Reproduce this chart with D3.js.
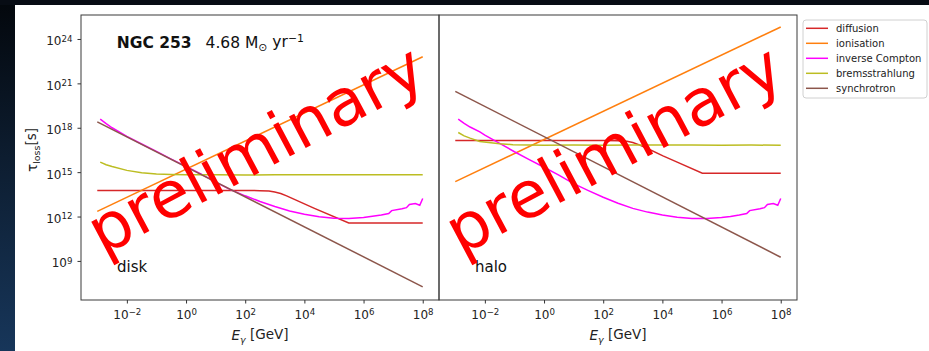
<!DOCTYPE html>
<html>
<head>
<meta charset="utf-8">
<script src="https://cdn.jsdelivr.net/npm/d3@7"></script>
<style>
    body { margin: 0; background: #0b1019; }
    svg { display: block; font-family: "DejaVu Sans", sans-serif; }
</style>
</head>
<body>
<svg id="chart" width="929" height="351"></svg>
<script>
// values are [log10 E_gamma (GeV), log10 tau_loss (s)]
const diffusionDisk = [[-3, 13.76], [2, 13.76], [2.5, 13.75], [2.8, 13.72], [3, 13.66], [3.2, 13.56], [3.4, 13.4], [3.7, 13.13], [4.32, 12.57], [5.5, 11.56], [8, 11.56]];
const ionisationDisk = [[-3, 12.35], [8, 22.8]];
const icDisk = [[-2.9, 18.58], [-2.7, 18.28], [-2.5, 18.0], [-2.2, 17.65], [-2, 17.42], [-1.5, 16.9], [-1, 16.4], [-0.5, 15.88], [0, 15.38], [0.5, 14.88], [1, 14.32], [1.5, 13.82], [2, 13.4], [2.5, 13.02], [3, 12.68], [3.5, 12.38], [4, 12.15], [4.5, 11.98], [5, 11.88], [5.5, 11.86], [6, 11.94], [6.3, 12.02], [6.6, 12.1], [6.85, 12.2], [6.95, 12.4], [7.3, 12.52], [7.45, 12.6], [7.55, 12.82], [7.75, 12.88], [7.9, 12.76], [8, 13.22]];
const bremsDisk = [[-2.9, 15.68], [-2.7, 15.5], [-2.5, 15.38], [-2, 15.12], [-1.5, 14.96], [-1, 14.88], [-0.5, 14.84], [0, 14.82], [1, 14.83], [2, 14.81], [3, 14.82], [4, 14.83], [5, 14.82], [6, 14.82], [7, 14.83], [8, 14.82]];
const synchDisk = [[-3, 18.4], [8, 7.25]];

const diffusionHalo = [[-3, 17.14], [2, 17.14], [2.5, 17.13], [2.8, 17.09], [3, 17.0], [3.2, 16.86], [3.46, 16.63], [4.02, 16.1], [4.5, 15.68], [5.35, 14.93], [8, 14.93]];
const ionisationHalo = [[-3, 14.36], [8, 24.81]];
const icHalo = [[-2.9, 18.59], [-2.7, 18.3], [-2.5, 18.05], [-2.17, 17.72], [-2, 17.5], [-1.5, 16.95], [-1, 16.38], [-0.5, 15.85], [0, 15.33], [0.5, 14.8], [1, 14.22], [1.5, 13.75], [2, 13.3], [2.5, 12.9], [3, 12.55], [3.5, 12.3], [4, 12.1], [4.5, 11.96], [5, 11.87], [5.5, 11.86], [6, 11.93], [6.3, 12.0], [6.6, 12.1], [6.85, 12.2], [6.95, 12.4], [7.3, 12.52], [7.45, 12.6], [7.55, 12.82], [7.75, 12.88], [7.9, 12.76], [8, 13.22]];
const bremsHalo = [[-2.9, 17.68], [-2.7, 17.45], [-2.5, 17.3], [-2.17, 17.07], [-1.5, 16.92], [-1.05, 16.86], [-0.5, 16.83], [0, 16.82], [1, 16.83], [2, 16.82], [3, 16.83], [4, 16.84], [5, 16.83], [6, 16.82], [7, 16.83], [8, 16.82]];
const synchHalo = [[-3, 20.46], [8, 9.25]];

const seriesNames = ["diffusion", "ionisation", "inverse Compton", "bremsstrahlung", "synchrotron"];
const colours = ["#d62728", "#ff7f0e", "#ff00ff", "#bcbd22", "#8c564b"];
const xTickExps = [-2, 0, 2, 4, 6, 8];
const yTickExps = [9, 12, 15, 18, 21, 24];
const xLimExps = [-3.55, 8.55];
const yLimExps = [6.36, 25.62];

const svg = d3.select("#chart");

// slide background behind the figure
const defs = svg.append("defs");
const grad = defs.append("linearGradient").attr("id", "bg").attr("x1", 0).attr("y1", 0).attr("x2", 0).attr("y2", 1);
grad.append("stop").attr("offset", "0%").attr("stop-color", "#03070c");
grad.append("stop").attr("offset", "45%").attr("stop-color", "#0d1d30");
grad.append("stop").attr("offset", "100%").attr("stop-color", "#17365a");
svg.append("rect").attr("width", 929).attr("height", 351).attr("fill", "url(#bg)");
svg.append("rect").attr("width", 929).attr("height", 5).attr("fill", "#070c14");
svg.append("rect").attr("x", 15).attr("y", 5).attr("width", 914).attr("height", 346).attr("fill", "#fff");

const superscript = (sel, base, exp) => {
    sel.text(null);
    sel.append("tspan").text(base);
    sel.append("tspan").attr("dy", "-0.45em").attr("font-size", "0.72em")
        .text(String(exp).replace("-", "\u2212"));
};

const lossPanel = () => {
    let left;
    let top;
    let width;
    let height;
    let series;
    let label;
    let id;
    let showYLabels = false;

    const my = (selection) => {
        const x = d3.scaleLog().domain(xLimExps.map((e) => 10 ** e)).range([0, width]);
        const y = d3.scaleLog().domain(yLimExps.map((e) => 10 ** e)).range([height, 0]);

        const g = selection.append("g").attr("transform", `translate(${left},${top})`);

        defs.append("clipPath").attr("id", id)
            .append("rect").attr("width", width).attr("height", height);

        const line = d3.line()
            .x((d) => x(10 ** d[0]))
            .y((d) => y(10 ** d[1]));

        g.append("g")
            .attr("clip-path", `url(#${id})`)
            .selectAll("path")
            .data(series)
            .join("path")
            .attr("d", line)
            .attr("fill", "none")
            .attr("stroke", (d, i) => colours[i])
            .attr("stroke-width", 1.5);

        // x axis
        const xAxis = g.append("g")
            .attr("transform", `translate(0,${height})`)
            .call(d3.axisBottom(x)
                .tickValues(xTickExps.map((e) => 10 ** e))
                .tickSize(3.5).tickSizeOuter(0).tickPadding(7));
        xAxis.select(".domain").remove();
        xAxis.selectAll(".tick line").attr("stroke", "#333");
        xAxis.selectAll(".tick text")
            .attr("font-size", 12).attr("font-family", "DejaVu Sans").attr("fill", "#222")
            .each(function (d) { superscript(d3.select(this), "10", Math.round(Math.log10(d))); });

        // y axis (labels only on the first panel)
        const yAxis = g.append("g")
            .call(d3.axisLeft(y)
                .tickValues(yTickExps.map((e) => 10 ** e))
                .tickSize(showYLabels ? 3.5 : 0).tickSizeOuter(0).tickPadding(5));
        yAxis.select(".domain").remove();
        yAxis.selectAll(".tick line").attr("stroke", "#333");
        if (showYLabels) {
            yAxis.selectAll(".tick text")
                .attr("dy", "0.5em")
                .attr("font-size", 12).attr("font-family", "DejaVu Sans").attr("fill", "#222")
                .each(function (d) { superscript(d3.select(this), "10", Math.round(Math.log10(d))); });
        } else {
            yAxis.selectAll(".tick text").remove();
        }

        // frame
        g.append("rect")
            .attr("width", width).attr("height", height)
            .attr("fill", "none").attr("stroke", "#3a3a3a").attr("stroke-width", 1);

        // x label
        const xl = g.append("text")
            .attr("x", width / 2).attr("y", height + 40)
            .attr("text-anchor", "middle").attr("font-size", 13.5).attr("fill", "#222");
        xl.append("tspan").attr("font-style", "italic").text("E");
        xl.append("tspan").attr("font-style", "italic").attr("font-size", "0.7em").attr("dy", "0.3em").text("\u03b3");
        xl.append("tspan").attr("dy", "-0.3em").text(" [GeV]");

        g.append("text")
            .attr("x", 36).attr("y", 256.7)
            .attr("font-size", 15).attr("fill", "#111")
            .text(label);

        // watermark
        g.append("text")
            .attr("transform", `translate(${width / 2},${height / 2}) rotate(-28)`)
            .attr("text-anchor", "middle").attr("dy", "0.2em")
            .attr("font-size", 65).attr("fill", "#ff0000")
            .text("preliminary");

        my.g = g;
    };
    my.left = function (_) { return arguments.length ? ((left = _), my) : left; };
    my.top = function (_) { return arguments.length ? ((top = _), my) : top; };
    my.width = function (_) { return arguments.length ? ((width = _), my) : width; };
    my.height = function (_) { return arguments.length ? ((height = _), my) : height; };
    my.series = function (_) { return arguments.length ? ((series = _), my) : series; };
    my.label = function (_) { return arguments.length ? ((label = _), my) : label; };
    my.id = function (_) { return arguments.length ? ((id = _), my) : id; };
    my.showYLabels = function (_) { return arguments.length ? ((showYLabels = _), my) : showYLabels; };
    return my;
};

const disk = lossPanel().left(81).top(15).width(358).height(285).id("clipDisk")
    .label("disk").showYLabels(true)
    .series([diffusionDisk, ionisationDisk, icDisk, bremsDisk, synchDisk]);
const halo = lossPanel().left(439).top(15).width(358).height(285).id("clipHalo")
    .label("halo")
    .series([diffusionHalo, ionisationHalo, icHalo, bremsHalo, synchHalo]);

svg.call(disk);
svg.call(halo);

// galaxy name and star formation rate
const title = svg.insert("text", "g").attr("x", 116.7).attr("y", 48.3)
    .attr("font-size", 15.5).attr("fill", "#111");
title.append("tspan").attr("font-weight", "bold").text("NGC 253");
title.append("tspan").attr("dx", 14).text("4.68 M");
title.append("tspan").attr("font-size", "0.7em").attr("dy", "0.25em").text("\u2299");
title.append("tspan").attr("dy", "-0.25em").text(" yr");
title.append("tspan").attr("font-size", "0.7em").attr("dy", "-0.5em").text("\u22121");

// y label
const yl = svg.append("text")
    .attr("transform", "translate(37,150) rotate(-90)")
    .attr("text-anchor", "middle").attr("font-size", 13.5).attr("fill", "#222");
yl.append("tspan").text("\u03c4");
yl.append("tspan").attr("font-size", "0.7em").attr("dy", "0.3em").text("loss");
yl.append("tspan").attr("dy", "-0.3em").text("[s]");

// legend
const legend = svg.append("g").attr("transform", "translate(803,20)");
legend.append("rect")
    .attr("width", 124).attr("height", 78).attr("rx", 3)
    .attr("fill", "#fff").attr("stroke", "#d0d0d0");
const rows = legend.selectAll("g.row").data(seriesNames).join("g")
    .attr("class", "row")
    .attr("transform", (d, i) => `translate(0,${8.3 + i * 15})`);
rows.append("line").attr("x1", 3).attr("x2", 25)
    .attr("stroke", (d, i) => colours[i]).attr("stroke-width", 1.5);
rows.append("text").attr("x", 33).attr("dy", "0.35em")
    .attr("font-size", 10).attr("fill", "#222").text((d) => d);
</script>
</body>
</html>
